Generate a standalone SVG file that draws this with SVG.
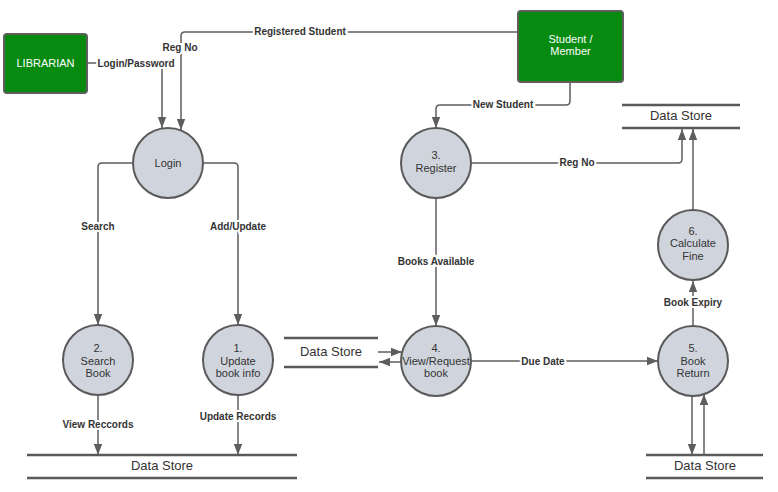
<svg xmlns="http://www.w3.org/2000/svg" width="778" height="492" viewBox="0 0 778 492">
<style>
.ent{fill:#068a10;stroke:#5e5e5e;stroke-width:2}
.entt{fill:#fff;font-family:"Liberation Sans",Arial,sans-serif;font-size:11px;text-anchor:middle}
.proc{fill:#d0d5dd;stroke:#5a5a5a;stroke-width:2}
.pt{fill:#333;font-family:"Liberation Sans",Arial,sans-serif;font-size:11px;text-anchor:middle}
.ds{stroke:#5a5a5a;stroke-width:2.5}
.dst{fill:#333;font-family:"Liberation Sans",Arial,sans-serif;font-size:13px;text-anchor:middle}
.c{fill:none;stroke:#5e5e5e;stroke-width:1.5;marker-end:url(#ah)}
.lbl{fill:#333;font-family:"Liberation Sans",Arial,sans-serif;font-size:10px;font-weight:bold;text-anchor:middle;stroke:#fff;stroke-width:4;paint-order:stroke}
</style>
<defs>
<marker id="ah" markerUnits="userSpaceOnUse" markerWidth="12" markerHeight="10" refX="11" refY="5" orient="auto">
<path d="M0,0.8 L11,5 L0,9.2 Z" fill="#5e5e5e"/>
</marker>
</defs>
<rect width="778" height="492" fill="#fff"/>
<g id="connectors">
<path class="c" d="M87,63 H158 Q162,63 162,67 V128"/>
<path class="c" d="M518,32 H185 Q181,32 181,36 V130"/>
<path class="c" d="M133,163 H102 Q98,163 98,167 V325"/>
<path class="c" d="M203,163 H234 Q238,163 238,167 V325"/>
<path class="c" d="M98,395 V455"/>
<path class="c" d="M238,395 V455"/>
<path class="c" d="M570,82 V101 Q570,105 566,105 H440 Q436,105 436,109 V128"/>
<path class="c" d="M471,163 H678 Q682,163 682,159 V129"/>
<path class="c" d="M693,210 V129"/>
<path class="c" d="M436,198 V326"/>
<path class="c" d="M378,352 H402"/>
<path class="c" d="M401,362 H379"/>
<path class="c" d="M471,361 H658"/>
<path class="c" d="M692,396 V455"/>
<path class="c" d="M704,455 V394"/>
<path class="c" d="M693,326 V281"/>
<text class="lbl" x="136" y="66.5">Login/Password</text>
<text class="lbl" x="300" y="34.5">Registered Student</text>
<text class="lbl" x="180" y="50.5">Reg No</text>
<text class="lbl" x="98" y="229.5">Search</text>
<text class="lbl" x="238" y="229.5">Add/Update</text>
<text class="lbl" x="98" y="427.5">View Reccords</text>
<text class="lbl" x="238" y="419.5">Update Records</text>
<text class="lbl" x="503" y="107.5">New Student</text>
<text class="lbl" x="577" y="165.5">Reg No</text>
<text class="lbl" x="436" y="264.5">Books Available</text>
<text class="lbl" x="543" y="364.5">Due Date</text>
<text class="lbl" x="693" y="305.5">Book Expiry</text>
</g>
<g id="librarian">
<rect class="ent" x="4" y="34" width="83" height="59" rx="3"/>
<text class="entt" x="45.5" y="67">LIBRARIAN</text>
</g>
<g id="student">
<rect class="ent" x="518" y="11" width="105" height="71" rx="3"/>
<text class="entt" x="570.5" y="43">Student /</text>
<text class="entt" x="570.5" y="55">Member</text>
</g>
<g id="login">
<circle class="proc" cx="168" cy="163" r="35"/>
<text class="pt" x="168" y="167">Login</text>
</g>
<g id="p2">
<circle class="proc" cx="98" cy="360" r="35"/>
<text class="pt" x="98" y="352">2.</text>
<text class="pt" x="98" y="365">Search</text>
<text class="pt" x="98" y="377">Book</text>
</g>
<g id="p1">
<circle class="proc" cx="238" cy="360" r="35"/>
<text class="pt" x="238" y="352">1.</text>
<text class="pt" x="238" y="365">Update</text>
<text class="pt" x="238" y="377">book info</text>
</g>
<g id="p3">
<circle class="proc" cx="436" cy="163" r="35"/>
<text class="pt" x="436" y="159">3.</text>
<text class="pt" x="436" y="172">Register</text>
</g>
<g id="p4">
<circle class="proc" cx="436" cy="361" r="35"/>
<text class="pt" x="436" y="352">4.</text>
<text class="pt" x="436" y="365">View/Request</text>
<text class="pt" x="436" y="377">book</text>
</g>
<g id="p5">
<circle class="proc" cx="693" cy="361" r="35"/>
<text class="pt" x="693" y="352">5.</text>
<text class="pt" x="693" y="365">Book</text>
<text class="pt" x="693" y="377">Return</text>
</g>
<g id="p6">
<circle class="proc" cx="693" cy="245" r="35"/>
<text class="pt" x="693" y="235">6.</text>
<text class="pt" x="693" y="247">Calculate</text>
<text class="pt" x="693" y="260">Fine</text>
</g>
<g id="ds-top">
<line class="ds" x1="622" y1="105" x2="740" y2="105"/>
<line class="ds" x1="622" y1="128" x2="740" y2="128"/>
<text class="dst" x="681" y="120">Data Store</text>
</g>
<g id="ds-mid">
<line class="ds" x1="284" y1="338" x2="378" y2="338"/>
<line class="ds" x1="284" y1="367" x2="378" y2="367"/>
<text class="dst" x="331" y="356">Data Store</text>
</g>
<g id="ds-bl">
<line class="ds" x1="27" y1="455" x2="297" y2="455"/>
<line class="ds" x1="27" y1="478" x2="297" y2="478"/>
<text class="dst" x="162" y="470">Data Store</text>
</g>
<g id="ds-br">
<line class="ds" x1="646" y1="455" x2="763" y2="455"/>
<line class="ds" x1="646" y1="478" x2="763" y2="478"/>
<text class="dst" x="705" y="470">Data Store</text>
</g>
</svg>
